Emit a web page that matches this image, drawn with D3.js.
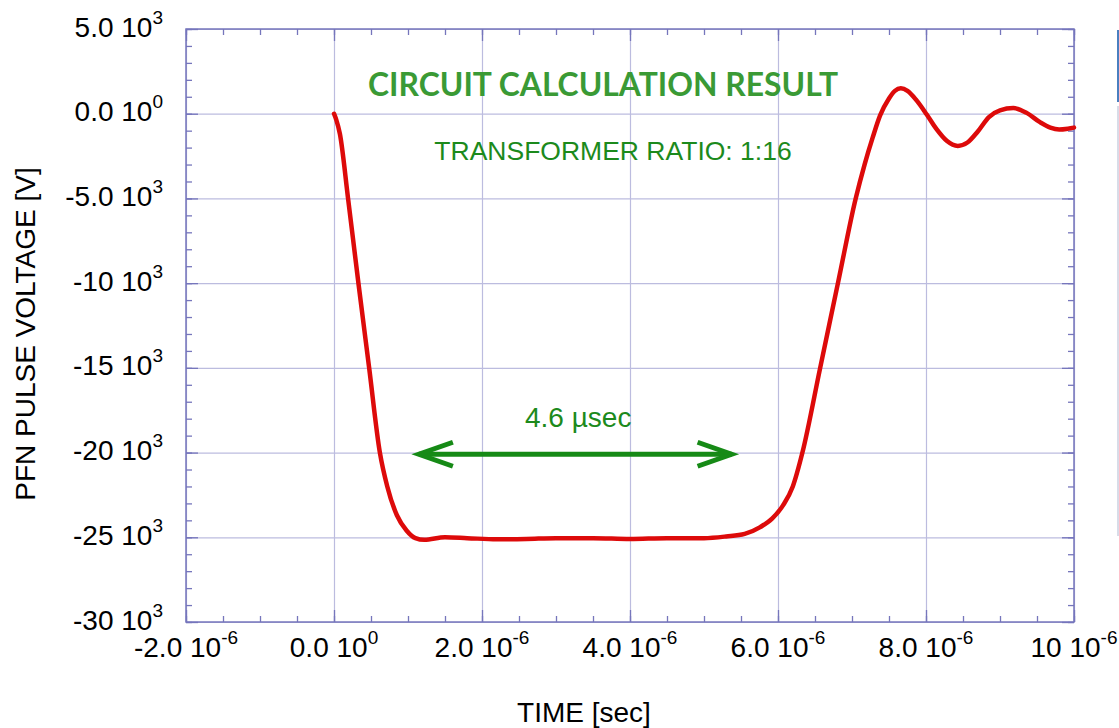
<!DOCTYPE html>
<html>
<head>
<meta charset="utf-8">
<script src="https://cdn.jsdelivr.net/npm/d3@7"></script>
<style>
  body { margin: 0; background: #fff; }
  svg { display: block; font-family: "Liberation Sans", Arial, sans-serif; }
</style>
</head>
<body>
<svg width="1119" height="728"></svg>
<script>
// time in microseconds, voltage in kV
var timeUs = [0, 0.03, 0.08, 0.19, 0.33, 0.475, 0.62, 0.72, 0.85, 0.98, 1.1, 1.22,
    1.5, 1.8, 2.2, 2.6, 3.0, 3.5, 4.0, 4.5, 5.0, 5.3, 5.55, 5.76, 5.92, 6.07, 6.2, 6.33,
    6.57, 6.81, 7.05, 7.17, 7.28, 7.38, 7.5, 7.58, 7.66, 7.75, 7.87, 8.01, 8.14, 8.28, 8.43,
    8.56, 8.7, 8.85, 9.0, 9.18, 9.36, 9.54, 9.68, 9.8, 9.92, 10.0];
var voltKV = [0, -0.35, -1.2, -5.0, -10.0, -15.0, -20.0, -22.0, -23.7, -24.6, -25.05, -25.15,
    -25.0, -25.05, -25.12, -25.1, -25.05, -25.05, -25.1, -25.05, -25.05, -24.95, -24.8, -24.4, -23.9, -23.1, -22.0, -20.0,
    -15.0, -10.0, -5.0, -3.0, -1.4, -0.1, 0.9, 1.35, 1.5, 1.35, 0.8, -0.05, -0.9, -1.6, -1.9,
    -1.7, -1.05, -0.2, 0.2, 0.33, 0.05, -0.5, -0.82, -0.93, -0.88, -0.82];

var xTicks = [-2, 0, 2, 4, 6, 8, 10];
var yTicks = [5, 0, -5, -10, -15, -20, -25, -30];
var xMinor = d3.range(-2, 10.01, 0.5);
var yMinor = d3.range(-30, 5.01, 1);

var arrowFrom = 1.12, arrowTo = 5.4, arrowV = -20.1;

var svg = d3.select("svg"),
    mLeft = 186, mTop = 29, mRight = 1074, mBottom = 622,
    width = mRight - mLeft,
    height = mBottom - mTop;

var x = d3.scaleLinear().domain([-2, 10]).range([0, width]),
    y = d3.scaleLinear().domain([-30, 5]).range([height, 0]);

var g = svg.append("g").attr("transform", "translate(" + mLeft + "," + mTop + ")");

// grid
g.append("g").attr("class", "grid")
    .attr("transform", "translate(0," + height + ")")
    .call(d3.axisBottom(x).tickValues(xTicks).tickSize(-height).tickFormat(""));
g.append("g").attr("class", "grid")
    .call(d3.axisLeft(y).tickValues(yTicks).tickSize(-width).tickFormat(""));
g.selectAll(".grid .domain").remove();
g.selectAll(".grid line").attr("stroke", "#bcbcdf").attr("stroke-width", 1.2);

// ticks on all four sides, pointing in
function ticks(axis, tr) {
    var a = g.append("g").attr("transform", tr).call(axis);
    a.select(".domain").remove();
    a.selectAll("line").attr("stroke", "#7676bc").attr("stroke-width", 1.3);
}
ticks(d3.axisBottom(x).tickValues(xMinor).tickSize(-6).tickFormat(""), "translate(0," + height + ")");
ticks(d3.axisBottom(x).tickValues(xTicks).tickSize(-12).tickFormat(""), "translate(0," + height + ")");
ticks(d3.axisTop(x).tickValues(xMinor).tickSize(-6).tickFormat(""), "translate(0,0)");
ticks(d3.axisTop(x).tickValues(xTicks).tickSize(-12).tickFormat(""), "translate(0,0)");
ticks(d3.axisLeft(y).tickValues(yMinor).tickSize(-6).tickFormat(""), "translate(0,0)");
ticks(d3.axisLeft(y).tickValues(yTicks).tickSize(-12).tickFormat(""), "translate(0,0)");
ticks(d3.axisRight(y).tickValues(yMinor).tickSize(-6).tickFormat(""), "translate(" + width + ",0)");
ticks(d3.axisRight(y).tickValues(yTicks).tickSize(-12).tickFormat(""), "translate(" + width + ",0)");

g.append("rect")
    .attr("width", width).attr("height", height)
    .attr("fill", "none").attr("stroke", "#7676bc").attr("stroke-width", 1.5);

// tick labels "m 10^e"
function mant(v) {
    if (v === 0) return "0.0";
    return Math.abs(v) >= 10 ? String(v) : v.toFixed(1);
}

g.selectAll(".xlab").data(xTicks).enter().append("text")
    .attr("class", "xlab")
    .attr("x", function (d) { return x(d); })
    .attr("y", height + 35)
    .attr("text-anchor", "middle")
    .attr("font-size", "28px")
    .each(function (d) {
        var t = d3.select(this);
        t.append("tspan").text(mant(d) + " 10");
        t.append("tspan").attr("dy", -13).attr("font-size", "19px").text(d === 0 ? "0" : "-6");
    });

g.selectAll(".ylab").data(yTicks).enter().append("text")
    .attr("class", "ylab")
    .attr("x", -23)
    .attr("y", function (d) { return y(d) + 7.5; })
    .attr("text-anchor", "end")
    .attr("font-size", "28px")
    .each(function (d) {
        var t = d3.select(this);
        t.append("tspan").text(mant(d) + " 10");
        t.append("tspan").attr("dy", -13).attr("font-size", "19px").text(d === 0 ? "0" : "3");
    });

// axis titles
svg.append("text")
    .attr("x", 584).attr("y", 722)
    .attr("text-anchor", "middle")
    .attr("font-size", "28px")
    .text("TIME [sec]");
svg.append("text")
    .attr("transform", "translate(35,334) rotate(-90)")
    .attr("text-anchor", "middle")
    .attr("font-size", "28px")
    .text("PFN PULSE VOLTAGE [V]");

// pulse curve
var pts = timeUs.map(function (t, i) { return [t, voltKV[i]]; });
var line = d3.line()
    .x(function (d) { return x(d[0]); })
    .y(function (d) { return y(d[1]); })
    .curve(d3.curveMonotoneX);
g.append("path")
    .datum(pts)
    .attr("d", line)
    .attr("fill", "none")
    .attr("stroke", "#dd0a0a")
    .attr("stroke-width", 4.5)
    .attr("stroke-linecap", "round")
    .attr("stroke-linejoin", "round");

// annotations
svg.append("text")
    .attr("x", 603).attr("y", 96)
    .attr("text-anchor", "middle")
    .attr("font-family", "Lato, 'Open Sans', sans-serif")
    .attr("font-weight", "bold")
    .attr("font-size", "33px")
    .attr("textLength", 470)
    .attr("lengthAdjust", "spacingAndGlyphs")
    .attr("fill", "#3a9a35")
    .text("CIRCUIT CALCULATION RESULT");

svg.append("text")
    .attr("x", 613).attr("y", 160)
    .attr("text-anchor", "middle")
    .attr("font-size", "26.5px")
    .attr("fill", "#1c8a1c")
    .text("TRANSFORMER RATIO: 1:16");

g.append("text")
    .attr("x", x((arrowFrom + arrowTo) / 2) + 3)
    .attr("y", y(arrowV) - 27)
    .attr("text-anchor", "middle")
    .attr("font-size", "28px")
    .attr("fill", "#1c8a1c")
    .text("4.6 \u00b5sec");

var ag = g.append("g")
    .attr("stroke", "#168a16")
    .attr("stroke-width", 5)
    .attr("fill", "none")
    .attr("stroke-linecap", "butt");
var ax0 = x(arrowFrom), ax1 = x(arrowTo), ay = y(arrowV);
ag.append("line").attr("x1", ax0 + 2).attr("x2", ax1 - 2).attr("y1", ay).attr("y2", ay);
ag.append("path").attr("d", "M" + (ax0 + 36) + "," + (ay - 12) + "L" + (ax0 + 2) + "," + ay + "L" + (ax0 + 36) + "," + (ay + 12));
ag.append("path").attr("d", "M" + (ax1 - 36) + "," + (ay - 12) + "L" + (ax1 - 2) + "," + ay + "L" + (ax1 - 36) + "," + (ay + 12));

// edge of neighbouring panel seen at the right border
svg.append("rect").attr("x", 1117).attr("y", 30).attr("width", 2).attr("height", 72).attr("fill", "#4a7fc0");
svg.append("rect").attr("x", 1117).attr("y", 106).attr("width", 2).attr("height", 430).attr("fill", "#d8dce8");
</script>
</body>
</html>
